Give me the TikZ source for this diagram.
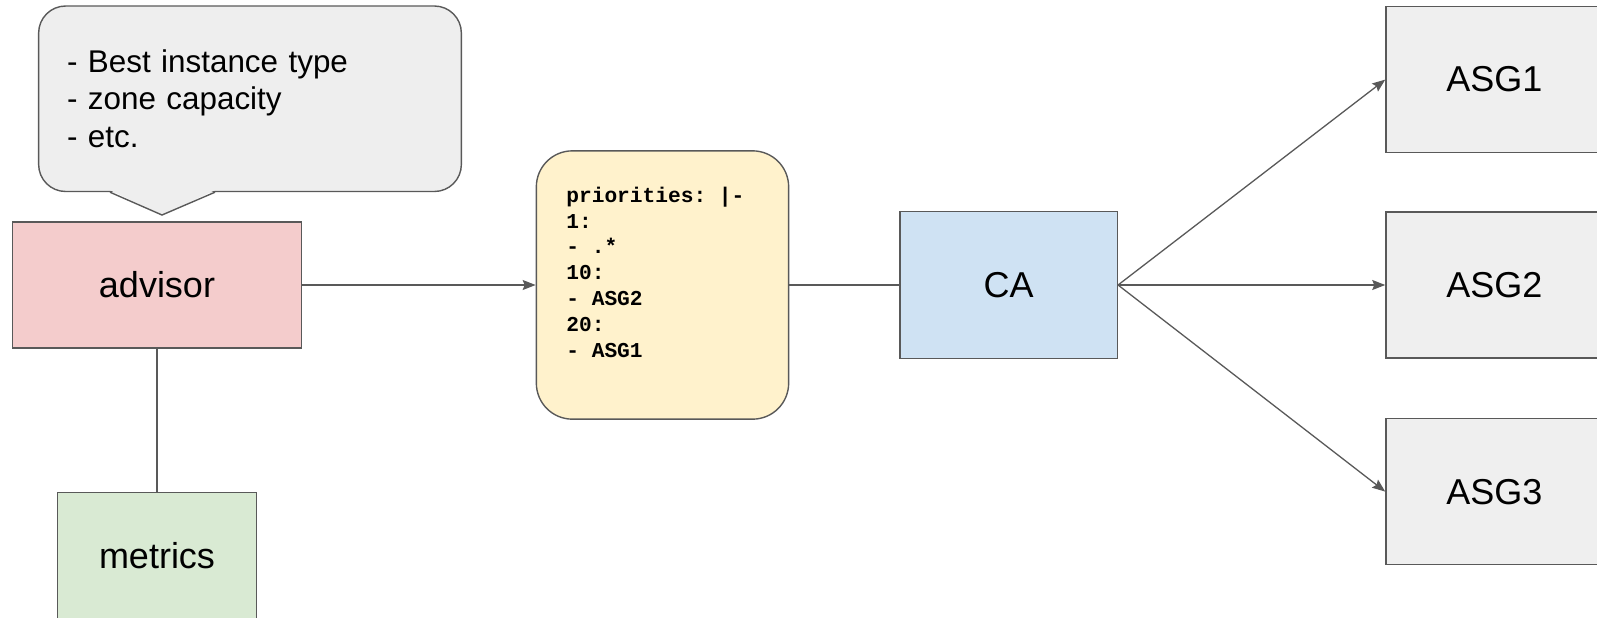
\documentclass[tikz,border=0pt]{standalone}
\usepackage{fontspec}
\setmainfont{Liberation Sans}
\setmonofont{Liberation Mono}
\usepackage{tikz}
\usetikzlibrary{positioning, arrows.meta}
\definecolor{line-gray}{HTML}{595959}
\definecolor{note-gray}{HTML}{EEEEEE}
\definecolor{adv-red}{HTML}{F4CCCC}
\definecolor{met-green}{HTML}{D9EAD3}
\definecolor{prio-yellow}{HTML}{FFF2CC}
\definecolor{ca-blue}{HTML}{CFE2F3}
\definecolor{asg-gray}{HTML}{EFEFEF}

\begin{document}
\begin{tikzpicture}[x=0.5pt, y=-0.5pt]
	\tikzset{box/.style={rectangle, draw=line-gray, line width=.7pt, inner sep=0pt, font=\fontsize{18pt}{21.6pt}\selectfont}}
	\tikzset{asg/.style={box, fill=asg-gray, minimum width=108.5pt, minimum height=73pt}}
	\tikzset{prio/.style={rectangle, draw=line-gray, fill=prio-yellow, line width=.7pt, rounded corners=18pt, minimum width=126.15pt, minimum height=134.15pt}}
	\tikzset{yaml/.style={align=left, inner sep=0pt, font=\fontsize{10.6pt}{12.9pt}\selectfont\ttfamily\bfseries}}
	\tikzset{note/.style={rectangle, draw=line-gray, fill=note-gray, line width=.7pt, rounded corners=13.5pt, align=left, text width=183pt, inner xsep=14.15pt, minimum width=211.35pt, minimum height=92.75pt, font=\fontsize{15.7pt}{18.85pt}\selectfont}}
	\tikzset{arr/.style={-{Stealth[length=6.5pt, width=5pt, inset=1pt]}, line-gray, line width=.65pt}}
	\tikzset{link/.style={line-gray, line width=.65pt}}

	\useasboundingbox (0,0) rectangle (1597,617);

	\node[box, fill=adv-red, minimum width=144.75pt, minimum height=63pt] (advisor) at (157,285) {advisor};
	\node[box, fill=met-green, minimum width=99.5pt, minimum height=63.5pt, below=71.5pt of advisor] (metrics) {metrics};
	\node[prio, right=116.6pt of advisor] (prio) {};
	\node[yaml, anchor=north west] (rules) at ([xshift=15.15pt, yshift=-18.2pt]prio.north west) {priorities: |-\\1:\\- .*\\10:\\- ASG2\\20:\\- ASG1};
	\node[box, fill=ca-blue, minimum width=108.65pt, minimum height=73.3pt, right=55pt of prio] (ca) {CA};
	\node[asg, right=133.6pt of ca] (asg2) {ASG2};
	\node[asg, above=29pt of asg2] (asg1) {ASG1};
	\node[asg, below=29.6pt of asg2] (asg3) {ASG3};

	\node[note] (hints) at (250,98.75) {- Best instance type\\- zone capacity\\- etc.};
	\coordinate (tip) at (162,215);
	\fill[note-gray] ([xshift=-70pt, yshift=1pt]hints.south) -- (tip) -- ([xshift=-17.5pt, yshift=1pt]hints.south) -- cycle;
	\draw[link, line width=.7pt] ([xshift=-70pt]hints.south) -- (tip) -- ([xshift=-17.5pt]hints.south);

	\draw[link] (advisor) -- (metrics);
	\draw[arr] (advisor) -- (prio);
	\draw[link] (prio) -- (ca);
	\foreach \g in {1,2,3}
		\draw[arr] (ca.east) -- (asg\g.west);
\end{tikzpicture}
\end{document}
